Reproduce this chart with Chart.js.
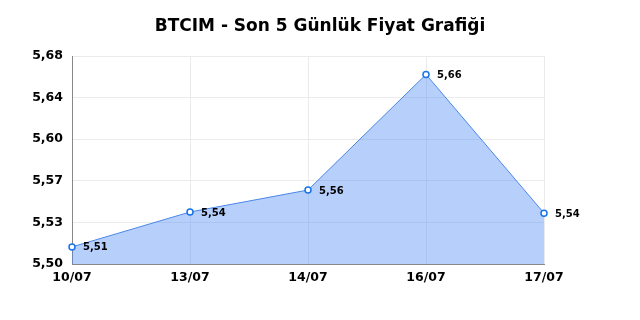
<!DOCTYPE html>
<html>
<head>
<meta charset="utf-8">
<script src="https://cdn.jsdelivr.net/npm/chart.js@4/dist/chart.umd.min.js"></script>
<style>
  body { margin: 0; background: #fff; }
  #wrap { width: 640px; height: 320px; }
</style>
</head>
<body>
<div id="wrap"><canvas id="priceChart"></canvas></div>
<script>
const dates = ['10/07', '13/07', '14/07', '16/07', '17/07'];
const prices = [5.5148, 5.545, 5.564, 5.664, 5.544];
const yMin = 5.50;
const yMax = 5.68;
const yStep = 0.036;

const fontFamily = '"DejaVu Sans", sans-serif';

// tick labels are cut to 2 decimals, not rounded (5,536 -> 5,53)
const cutComma = (v) => (Math.floor(v * 100 + 1e-6) / 100).toFixed(2).replace('.', ',');
const roundComma = (v) => v.toFixed(2).replace('.', ',');

// small inline plugin for the value labels next to each point
const pointLabels = {
  id: 'pointLabels',
  afterDatasetsDraw(chart) {
    const ctx = chart.ctx;
    const meta = chart.getDatasetMeta(0);
    ctx.save();
    ctx.font = 'bold 10px ' + fontFamily;
    ctx.fillStyle = '#000';
    ctx.textAlign = 'left';
    ctx.textBaseline = 'middle';
    meta.data.forEach((pt, i) => {
      ctx.fillText(roundComma(prices[i]), pt.x + 11, pt.y + 1);
    });
    ctx.restore();
  }
};

const ctx = document.getElementById('priceChart').getContext('2d');
new Chart(ctx, {
  type: 'line',
  data: {
    labels: dates,
    datasets: [{
      data: prices,
      fill: 'start',
      backgroundColor: 'rgba(66, 133, 244, 0.39)',
      borderColor: '#4a86e8',
      borderWidth: 1,
      tension: 0,
      pointRadius: 3,
      pointBorderWidth: 1.5,
      pointBackgroundColor: '#fff',
      pointBorderColor: '#1a73e8',
    }],
  },
  options: {
    responsive: true,
    maintainAspectRatio: false,
    animation: false,
    layout: { padding: { left: 0, right: 0, top: 0, bottom: 29 } },
    plugins: {
      legend: { display: false },
      tooltip: { enabled: false },
      title: {
        display: true,
        text: 'BTCIM - Son 5 Günlük Fiyat Grafiği',
        color: '#000',
        font: { family: fontFamily, size: 17, weight: 'bold' },
        padding: { top: 16, bottom: 19.6 },
      },
    },
    scales: {
      x: {
        grid: { color: '#ebebeb', drawTicks: false },
        border: { color: '#888' },
        ticks: {
          color: '#000',
          padding: 6,
          maxRotation: 0,
          font: { family: fontFamily, size: 12.5, weight: 'bold' },
        },
      },
      y: {
        min: yMin,
        max: yMax,
        afterFit: (scale) => { scale.width = 72; },
        grid: { color: '#ebebeb', drawTicks: false },
        border: { color: '#888' },
        ticks: {
          stepSize: yStep,
          color: '#000',
          padding: 9,
          font: { family: fontFamily, size: 12.5, weight: 'bold' },
          callback: (v) => cutComma(v),
        },
      },
      // empty axis on the right, only to keep space free for the labels
      yRight: {
        position: 'right',
        afterFit: (scale) => { scale.width = 96; },
        grid: { display: false },
        border: { display: false },
        ticks: { display: false },
      },
    },
  },
  plugins: [pointLabels],
});
</script>
</body>
</html>
